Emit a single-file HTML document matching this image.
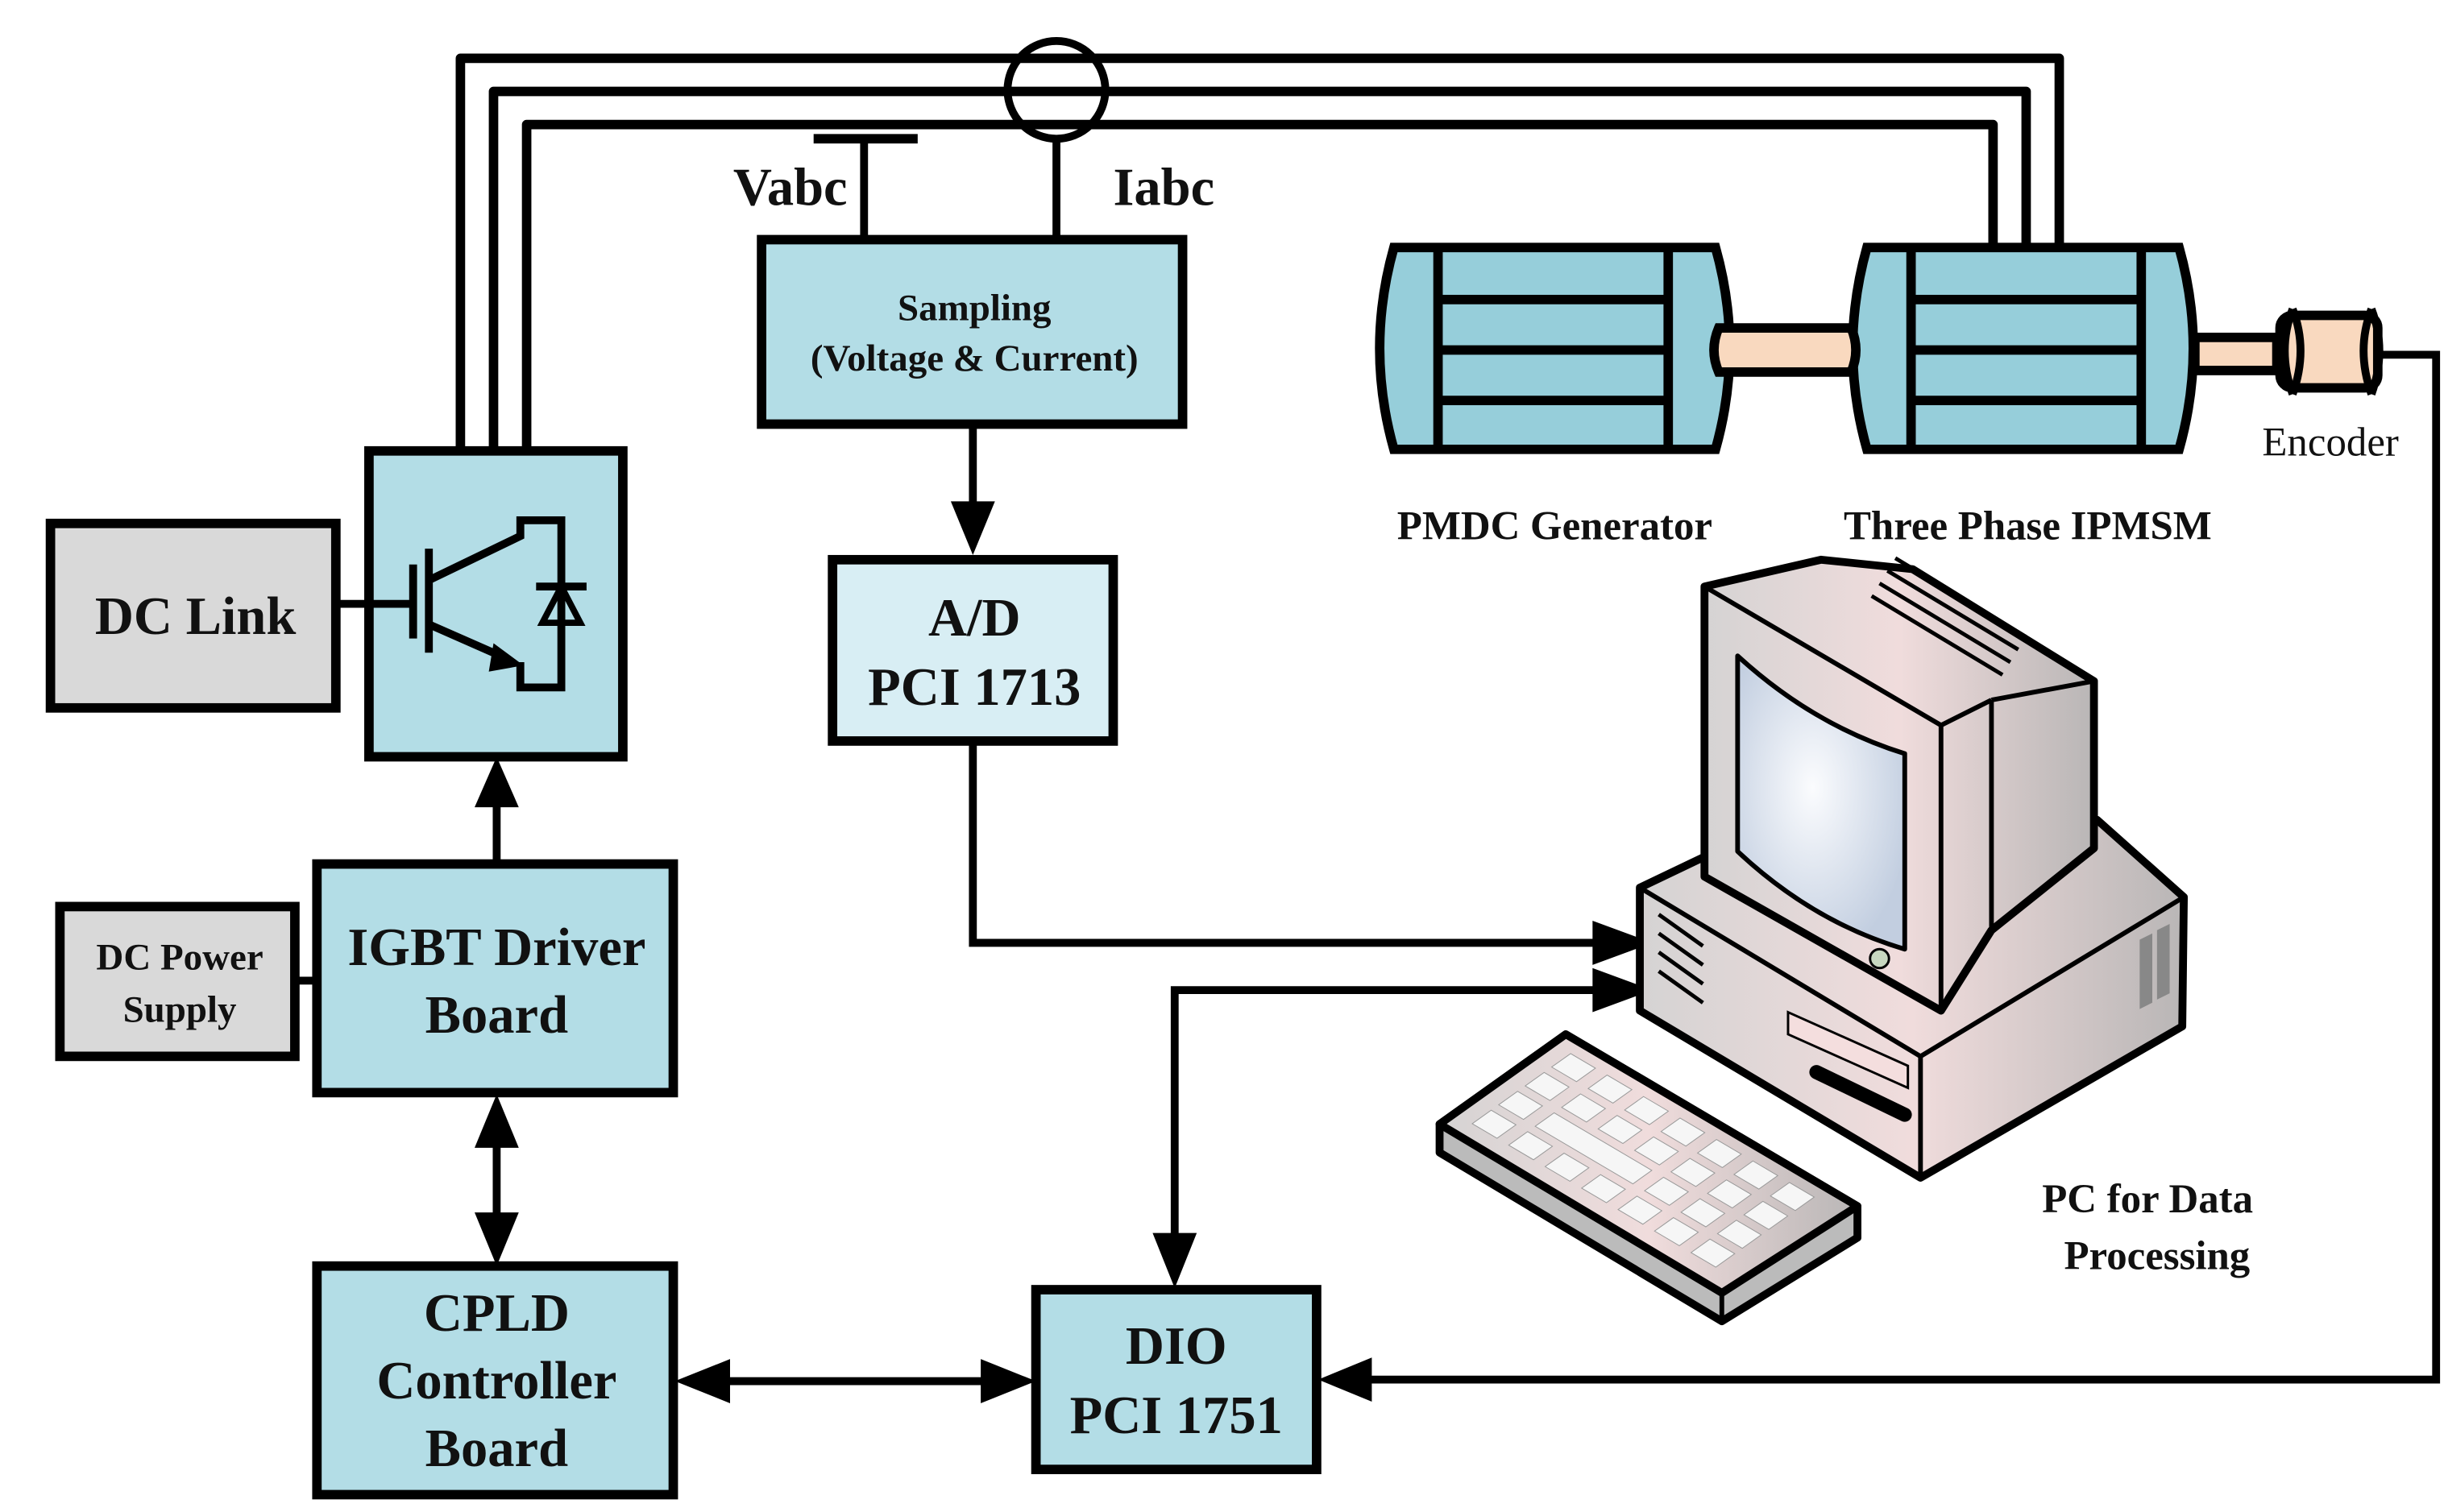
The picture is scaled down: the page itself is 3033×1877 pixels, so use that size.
<!DOCTYPE html>
<html><head><meta charset="utf-8"><style>
html,body{margin:0;padding:0;background:#fff;}
svg{display:block;}
text{font-family:"Liberation Serif",serif;font-weight:bold;fill:#111;}
</style></head><body>
<svg width="3033" height="1877" viewBox="0 0 1550 959" preserveAspectRatio="none" xmlns="http://www.w3.org/2000/svg">
<defs>
<linearGradient id="pc" x1="0" x2="1" y1="0" y2="0"><stop offset="0" stop-color="#d5d3d3"/><stop offset="0.5" stop-color="#f0dcdc"/><stop offset="1" stop-color="#b9b6b6"/></linearGradient>
<radialGradient id="scr" cx="0.45" cy="0.45" r="0.6"><stop offset="0" stop-color="#fbfcfe"/><stop offset="1" stop-color="#c2cee0"/></radialGradient>
</defs>

<!-- three-phase wires -->
<g fill="none" stroke="#000" stroke-width="6" stroke-linejoin="round">
<polyline points="292,285 292,37 1306,37 1306,155"/>
<polyline points="313,285 313,58 1285,58 1285,155"/>
<polyline points="334,285 334,79 1264,79 1264,155"/>
</g>
<circle cx="670" cy="57" r="31" fill="none" stroke="#000" stroke-width="5"/>
<line x1="670" y1="88" x2="670" y2="152" stroke="#000" stroke-width="5"/>
<line x1="548" y1="88" x2="548" y2="152" stroke="#000" stroke-width="5"/>
<line x1="516" y1="88" x2="582" y2="88" stroke="#000" stroke-width="6"/>
<text x="465" y="130" font-size="34">Vabc</text>
<text x="706" y="130" font-size="34">Iabc</text>

<!-- Sampling -->
<rect x="483" y="152" width="267" height="117" fill="#b3dde6" stroke="#000" stroke-width="6"/>
<text x="618" y="203" font-size="24" text-anchor="middle">Sampling</text>
<text x="618" y="235" font-size="24" text-anchor="middle">(Voltage &amp; Current)</text>

<line x1="617" y1="270" x2="617" y2="322" stroke="#000" stroke-width="5"/>
<polygon points="603,318 631,318 617,352" fill="#000"/>

<!-- A/D -->
<rect x="528" y="355" width="178" height="115" fill="#d8eef4" stroke="#000" stroke-width="6"/>
<text x="618" y="403" font-size="34" text-anchor="middle">A/D</text>
<text x="618" y="447" font-size="34" text-anchor="middle">PCI 1713</text>

<polyline points="617,470 617,598 1012,598" fill="none" stroke="#000" stroke-width="5"/>
<polygon points="1010,584 1048,598 1010,612" fill="#000"/>
<polyline points="1012,628 745,628 745,785" fill="none" stroke="#000" stroke-width="5"/>
<polygon points="1010,614 1048,628 1010,642" fill="#000"/>
<polygon points="731,782 759,782 745,817" fill="#000"/>

<!-- DC Link -->
<rect x="32" y="332" width="181" height="117" fill="#d9d9d9" stroke="#000" stroke-width="6"/>
<text x="124" y="402" font-size="34" text-anchor="middle">DC Link</text>

<!-- IGBT -->
<rect x="234" y="286" width="161" height="194" fill="#b3dde6" stroke="#000" stroke-width="6"/>
<g stroke="#000" stroke-width="5" fill="none">
<line x1="213" y1="383" x2="262" y2="383"/>
<line x1="262" y1="358" x2="262" y2="405"/>
<line x1="272" y1="348" x2="272" y2="414"/>
<polyline points="272,368 330,340 330,330 356,330 356,436 330,436 330,420"/>
<line x1="272" y1="396" x2="322" y2="418"/>
<line x1="340" y1="372" x2="372" y2="372"/>
</g>
<polygon points="313,408 332,422 310,426" fill="#000"/>
<polygon points="344,395 368,395 356,372" fill="none" stroke="#000" stroke-width="4"/>

<!-- IGBT driver -->
<line x1="315" y1="548" x2="315" y2="510" stroke="#000" stroke-width="5"/>
<polygon points="301,512 329,512 315,480" fill="#000"/>
<rect x="201" y="548" width="226" height="145" fill="#b3dde6" stroke="#000" stroke-width="6"/>
<text x="315" y="612" font-size="34" text-anchor="middle">IGBT Driver</text>
<text x="315" y="655" font-size="34" text-anchor="middle">Board</text>

<rect x="38" y="575" width="149" height="95" fill="#d9d9d9" stroke="#000" stroke-width="6"/>
<text x="114" y="615" font-size="24" text-anchor="middle">DC Power</text>
<text x="114" y="648" font-size="24" text-anchor="middle">Supply</text>
<line x1="187" y1="622" x2="201" y2="622" stroke="#000" stroke-width="5"/>

<line x1="315" y1="725" x2="315" y2="772" stroke="#000" stroke-width="5"/>
<polygon points="301,728 329,728 315,694" fill="#000"/>
<polygon points="301,769 329,769 315,803" fill="#000"/>

<!-- CPLD -->
<rect x="201" y="803" width="226" height="145" fill="#b3dde6" stroke="#000" stroke-width="6"/>
<text x="315" y="844" font-size="34" text-anchor="middle">CPLD</text>
<text x="315" y="887" font-size="34" text-anchor="middle">Controller</text>
<text x="315" y="930" font-size="34" text-anchor="middle">Board</text>

<line x1="460" y1="876" x2="625" y2="876" stroke="#000" stroke-width="5"/>
<polygon points="463,862 463,890 428,876" fill="#000"/>
<polygon points="622,862 622,890 657,876" fill="#000"/>

<!-- DIO -->
<rect x="657" y="818" width="178" height="114" fill="#b3dde6" stroke="#000" stroke-width="6"/>
<text x="746" y="865" font-size="34" text-anchor="middle">DIO</text>
<text x="746" y="909" font-size="34" text-anchor="middle">PCI 1751</text>

<!-- encoder line -->
<polyline points="1510,225 1545,225 1545,875 868,875" fill="none" stroke="#000" stroke-width="5"/>
<polygon points="870,861 870,889 836,875" fill="#000"/>

<!-- motors -->
<g stroke="#000" stroke-width="6">
<path d="M884,157 L1088,157 Q1106,221 1088,285 L884,285 Q866,221 884,157 Z" fill="#96ceda"/>
<path d="M1184,157 L1382,157 Q1400,221 1382,285 L1184,285 Q1166,221 1184,157 Z" fill="#96ceda"/>
<line x1="912" y1="157" x2="912" y2="285"/>
<line x1="1058" y1="157" x2="1058" y2="285"/>
<line x1="912" y1="190" x2="1058" y2="190"/>
<line x1="912" y1="222" x2="1058" y2="222"/>
<line x1="912" y1="254" x2="1058" y2="254"/>
<line x1="1212" y1="157" x2="1212" y2="285"/>
<line x1="1358" y1="157" x2="1358" y2="285"/>
<line x1="1212" y1="190" x2="1358" y2="190"/>
<line x1="1212" y1="222" x2="1358" y2="222"/>
<line x1="1212" y1="254" x2="1358" y2="254"/>
<path d="M1090,208 L1174,208 Q1180,222 1174,236 L1090,236 Q1084,222 1090,208 Z" fill="#f9d9bf"/>
<rect x="1392" y="214" width="52" height="21" fill="#f9d9bf"/>
<rect x="1446" y="200" width="62" height="46" rx="8" fill="#f9d9bf"/>
</g>
<g stroke="#000" stroke-width="5" fill="none">
<path d="M1454,196 Q1444,222 1454,250"/><path d="M1454,196 Q1464,222 1454,250"/>
<path d="M1504,196 Q1494,222 1504,250"/><path d="M1504,196 Q1514,222 1504,250"/>
</g>
<text x="986" y="342" font-size="26" text-anchor="middle">PMDC Generator</text>
<text x="1286" y="342" font-size="26" text-anchor="middle">Three Phase IPMSM</text>
<text x="1478" y="289" font-size="26" text-anchor="middle" style="font-weight:normal">Encoder</text>

<!-- computer -->
<g stroke="#000" stroke-width="5" stroke-linejoin="round">
<polygon points="1040,563 1130,520 1330,520 1385,569 1384,651 1218,747 1040,641" fill="url(#pc)"/>
<polyline points="1040,563 1218,670 1385,569" fill="none" stroke-width="3"/>
<line x1="1218" y1="670" x2="1218" y2="747" stroke-width="3"/>
<polygon points="1081,372 1155,355 1213,361 1328,432 1328,538 1263,590 1231,641 1081,556" fill="url(#pc)"/>
<polyline points="1081,372 1231,460 1231,641" fill="none" stroke-width="3"/>
<line x1="1231" y1="460" x2="1263" y2="444" stroke-width="3"/>
<line x1="1263" y1="444" x2="1263" y2="590" stroke-width="3"/>
<line x1="1263" y1="444" x2="1328" y2="432" stroke-width="3"/>
<path d="M1102,416 Q1150,460 1208,478 L1208,602 Q1150,585 1102,540 Z" fill="url(#scr)" stroke-width="3"/>
</g>
<g stroke="#000" stroke-width="2.5">
<line x1="1187" y1="378" x2="1270" y2="428"/>
<line x1="1192" y1="370" x2="1275" y2="420"/>
<line x1="1197" y1="362" x2="1280" y2="412"/>
<line x1="1202" y1="354" x2="1285" y2="404"/>
<line x1="1052" y1="580" x2="1080" y2="600"/>
<line x1="1052" y1="592" x2="1080" y2="612"/>
<line x1="1052" y1="604" x2="1080" y2="624"/>
<line x1="1052" y1="616" x2="1080" y2="636"/>
</g>
<circle cx="1192" cy="608" r="6" fill="#c8d8c0" stroke="#000" stroke-width="1.5"/>
<polygon points="1134,642 1210,676 1210,690 1134,656" fill="#f4dede" stroke="#000" stroke-width="1.5"/>
<line x1="1152" y1="680" x2="1208" y2="707" stroke="#000" stroke-width="9" stroke-linecap="round"/>
<polygon points="1357,596 1365,592 1365,636 1357,640" fill="#888"/>
<polygon points="1368,590 1376,586 1376,630 1368,634" fill="#888"/>
<!-- keyboard -->
<g stroke="#000" stroke-width="5" stroke-linejoin="round">
<polygon points="993,656 1178,765 1178,785 1092,838 913,731 913,713" fill="#bbb"/>
<polygon points="993,656 1178,765 1092,820 913,713" fill="url(#pc)"/>
<polyline points="913,713 1092,820 1092,838" fill="none" stroke-width="3"/>
</g>
<g transform="matrix(185 109 -80 57 993 656)" fill="#f6f6f6" stroke="#999">
<rect x="0.06" y="0.1" width="0.085" height="0.15" vector-effect="non-scaling-stroke"/>
<rect x="0.185" y="0.1" width="0.085" height="0.15" vector-effect="non-scaling-stroke"/>
<rect x="0.31" y="0.1" width="0.085" height="0.15" vector-effect="non-scaling-stroke"/>
<rect x="0.435" y="0.1" width="0.085" height="0.15" vector-effect="non-scaling-stroke"/>
<rect x="0.56" y="0.1" width="0.085" height="0.15" vector-effect="non-scaling-stroke"/>
<rect x="0.685" y="0.1" width="0.085" height="0.15" vector-effect="non-scaling-stroke"/>
<rect x="0.81" y="0.1" width="0.085" height="0.15" vector-effect="non-scaling-stroke"/>
<rect x="0.06" y="0.31" width="0.085" height="0.15" vector-effect="non-scaling-stroke"/>
<rect x="0.185" y="0.31" width="0.085" height="0.15" vector-effect="non-scaling-stroke"/>
<rect x="0.31" y="0.31" width="0.085" height="0.15" vector-effect="non-scaling-stroke"/>
<rect x="0.435" y="0.31" width="0.085" height="0.15" vector-effect="non-scaling-stroke"/>
<rect x="0.56" y="0.31" width="0.085" height="0.15" vector-effect="non-scaling-stroke"/>
<rect x="0.685" y="0.31" width="0.085" height="0.15" vector-effect="non-scaling-stroke"/>
<rect x="0.81" y="0.31" width="0.085" height="0.15" vector-effect="non-scaling-stroke"/>
<rect x="0.06" y="0.52" width="0.085" height="0.15" vector-effect="non-scaling-stroke"/>
<rect x="0.185" y="0.52" width="0.335" height="0.15" vector-effect="non-scaling-stroke"/>
<rect x="0.56" y="0.52" width="0.085" height="0.15" vector-effect="non-scaling-stroke"/>
<rect x="0.685" y="0.52" width="0.085" height="0.15" vector-effect="non-scaling-stroke"/>
<rect x="0.81" y="0.52" width="0.085" height="0.15" vector-effect="non-scaling-stroke"/>
<rect x="0.06" y="0.73" width="0.085" height="0.15" vector-effect="non-scaling-stroke"/>
<rect x="0.185" y="0.73" width="0.085" height="0.15" vector-effect="non-scaling-stroke"/>
<rect x="0.31" y="0.73" width="0.085" height="0.15" vector-effect="non-scaling-stroke"/>
<rect x="0.435" y="0.73" width="0.085" height="0.15" vector-effect="non-scaling-stroke"/>
<rect x="0.56" y="0.73" width="0.085" height="0.15" vector-effect="non-scaling-stroke"/>
<rect x="0.685" y="0.73" width="0.085" height="0.15" vector-effect="non-scaling-stroke"/>
<rect x="0.81" y="0.73" width="0.085" height="0.15" vector-effect="non-scaling-stroke"/>
</g>
<text x="1362" y="769" font-size="26" text-anchor="middle">PC for Data</text>
<text x="1368" y="805" font-size="26" text-anchor="middle">Processing</text>
</svg>
</body></html>
